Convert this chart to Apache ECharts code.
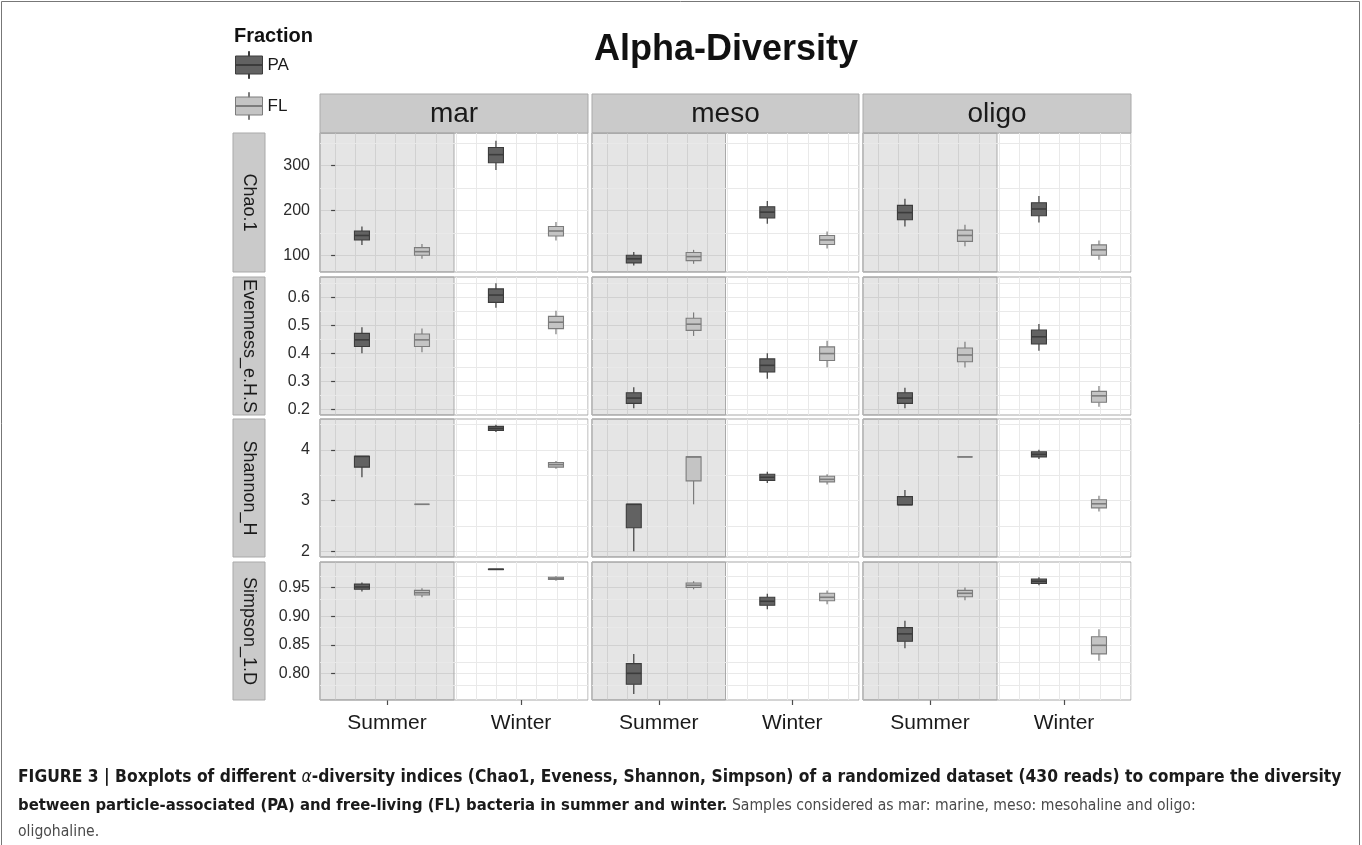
<!DOCTYPE html>
<html>
<head>
<meta charset="utf-8">
<title>Alpha-Diversity</title>
<script src="https://cdn.jsdelivr.net/npm/echarts@6.0.0/dist/echarts.min.js"></script>
<style>
html,body{margin:0;padding:0;background:#ffffff;}
#chart{width:1362px;height:845px;}
</style>
</head>
<body>
<div id="chart"></div>
<script>
// ================= DATA =================
const seasons = ['Summer', 'Winter'];
const habitats = ['mar', 'meso', 'oligo'];
const indexNames = ['Chao.1', 'Evenness_e.H.S', 'Shannon_H', 'Simpson_1.D'];
const fractions = ['PA', 'FL'];

// each box: [min, Q1, median, Q3, max]
// order: mar-Summer, mar-Winter, meso-Summer, meso-Winter, oligo-Summer, oligo-Winter
const chaoPA = [
  [123, 134, 144, 154, 164],
  [290, 306, 324, 340, 355],
  [77, 83, 92, 100, 107],
  [170, 183, 196, 208, 221],
  [164, 179, 195, 211, 226],
  [173, 188, 203, 217, 232]
];
const chaoFL = [
  [92, 100, 108, 117, 125],
  [133, 143, 154, 164, 174],
  [81, 88, 97, 106, 112],
  [115, 124, 134, 144, 153],
  [120, 131, 144, 156, 168],
  [90, 100, 112, 123, 133]
];
const evenPA = [
  [0.400, 0.424, 0.448, 0.471, 0.493],
  [0.563, 0.582, 0.608, 0.630, 0.650],
  [0.204, 0.221, 0.240, 0.259, 0.279],
  [0.309, 0.333, 0.357, 0.380, 0.400],
  [0.204, 0.221, 0.240, 0.259, 0.277],
  [0.409, 0.433, 0.459, 0.483, 0.505]
];
const evenFL = [
  [0.404, 0.424, 0.448, 0.469, 0.489],
  [0.468, 0.488, 0.511, 0.532, 0.552],
  [0.462, 0.482, 0.504, 0.525, 0.546],
  [0.350, 0.374, 0.399, 0.423, 0.445],
  [0.349, 0.370, 0.394, 0.419, 0.441],
  [0.209, 0.225, 0.248, 0.264, 0.283]
];
const shanPA = [
  [3.46, 3.66, 3.87, 3.87, 3.87],
  [4.35, 4.38, 4.42, 4.46, 4.49],
  [2.01, 2.47, 2.93, 2.93, 2.93],
  [3.35, 3.40, 3.46, 3.52, 3.57],
  [2.92, 2.92, 2.92, 3.08, 3.21],
  [3.82, 3.86, 3.91, 3.96, 4.00]
];
const shanFL = [
  [2.93, 2.93, 2.93, 2.93, 2.93],
  [3.63, 3.66, 3.71, 3.75, 3.78],
  [2.93, 3.39, 3.86, 3.86, 3.86],
  [3.32, 3.37, 3.42, 3.48, 3.52],
  [3.86, 3.86, 3.86, 3.86, 3.86],
  [2.79, 2.86, 2.94, 3.02, 3.10]
];
const simpPA = [
  [0.943, 0.947, 0.951, 0.956, 0.959],
  [0.981, 0.9814, 0.982, 0.9823, 0.9826],
  [0.764, 0.781, 0.800, 0.817, 0.834],
  [0.912, 0.919, 0.926, 0.933, 0.939],
  [0.844, 0.856, 0.869, 0.880, 0.892],
  [0.954, 0.957, 0.961, 0.965, 0.968]
];
const simpFL = [
  [0.933, 0.937, 0.941, 0.945, 0.949],
  [0.962, 0.964, 0.966, 0.968, 0.970],
  [0.947, 0.950, 0.954, 0.958, 0.961],
  [0.921, 0.927, 0.933, 0.940, 0.945],
  [0.928, 0.934, 0.940, 0.945, 0.950],
  [0.822, 0.834, 0.849, 0.864, 0.877]
];

// tick labels (major) and minor grid values
const chaoTicks = [100, 200, 300];
const evenTicks = [0.2, 0.3, 0.4, 0.5, 0.6];
const shanTicks = [2, 3, 4];
const simpTicks = [0.80, 0.85, 0.90, 0.95];
const chaoMinor = [150, 250, 350];
const evenMinor = [0.25, 0.35, 0.45, 0.55, 0.65];
const shanMinor = [2.5, 3.5, 4.5];
const simpMinor = [0.775, 0.825, 0.875, 0.925, 0.975];

// ================= LAYOUT / STYLE =================
const colLeft = [320, 592, 863];
const colWidth = [268, 267, 268];
const rowTop = [133, 277, 419, 562];
const rowHeight = [139, 138, 138, 138];
const stripTop = 94, stripH = 39;
const rowStripLeft = 233, rowStripW = 32;

const FONT = "'Liberation Sans', Arial, Helvetica, sans-serif";
const CAP_FONT = "'Liberation Sans Narrow', 'DejaVu Sans Condensed', 'Liberation Sans', sans-serif";
const GRID_COLOR = '#e9e9e9';
const PANEL_BORDER = '#a9a9a9';
const STRIP_FILL = '#cacaca';
const PA_FILL = '#626262', PA_LINE = '#3c3c3c';
const FL_FILL = '#c4c4c4', FL_LINE = '#7c7c7c';
const SHIFT_PA = -0.187, SHIFT_FL = 0.261;   // dodge positions (fraction of band)
const BOX_HALF = 0.056;                      // half box width (fraction of band)

const rowsCfg = [
  { pa: chaoPA, fl: chaoFL, ticks: chaoTicks, minor: chaoMinor, min: 62.7, max: 372.2, split: 3, dec: 0 },
  { pa: evenPA, fl: evenFL, ticks: evenTicks, minor: evenMinor, min: 0.1796, max: 0.6725, split: 5, dec: 1 },
  { pa: shanPA, fl: shanFL, ticks: shanTicks, minor: shanMinor, min: 1.896, max: 4.604, split: 3, dec: 0 },
  { pa: simpPA, fl: simpFL, ticks: simpTicks, minor: simpMinor, min: 0.7534, max: 0.9947, split: 5, dec: 2 }
];

function makeRender(shift, fill, stroke) {
  return function (params, api) {
    const xi = api.value(0);
    const band = api.size([1, 0])[0];
    const pt = function (v) { return api.coord([xi, v]); };
    const cx = pt(api.value(3))[0] + shift * band;
    const yMin = pt(api.value(1))[1];
    const yQ1 = pt(api.value(2))[1];
    const yMed = pt(api.value(3))[1];
    const yQ3 = pt(api.value(4))[1];
    const yMax = pt(api.value(5))[1];
    const hw = BOX_HALF * band;
    return {
      type: 'group',
      children: [
        { type: 'line', shape: { x1: cx, y1: yMax, x2: cx, y2: yQ3 }, style: { stroke: stroke, lineWidth: 1.2 } },
        { type: 'line', shape: { x1: cx, y1: yQ1, x2: cx, y2: yMin }, style: { stroke: stroke, lineWidth: 1.2 } },
        { type: 'rect', shape: { x: cx - hw, y: yQ3, width: 2 * hw, height: Math.max(yQ1 - yQ3, 0) }, style: { fill: fill, stroke: stroke, lineWidth: 1.1 } },
        { type: 'line', shape: { x1: cx - hw, y1: yMed, x2: cx + hw, y2: yMed }, style: { stroke: stroke, lineWidth: 1.6 } }
      ]
    };
  };
}

const grids = [], xAxes = [], yAxes = [], series = [];
let g = 0;
for (let r = 0; r < 4; r++) {
  const cfg = rowsCfg[r];
  for (let c = 0; c < 3; c++) {
    grids.push({
      left: colLeft[c], top: rowTop[r], width: colWidth[c], height: rowHeight[r],
      show: true, borderColor: PANEL_BORDER, borderWidth: 1, backgroundColor: '#ffffff'
    });
    // category axis (Summer / Winter)
    xAxes.push({
      type: 'category', gridIndex: g, data: seasons, position: 'bottom', boundaryGap: true,
      axisLine: { show: false },
      axisTick: { show: r === 3, alignWithLabel: true, length: 5, lineStyle: { color: '#4d4d4d', width: 1.2 } },
      axisLabel: { show: r === 3, fontSize: 21, color: '#1a1a1a', margin: 13, fontFamily: FONT },
      splitLine: { show: false }
    });
    // helper continuous axis for the vertical grid lines & shaded Summer area
    xAxes.push({
      type: 'value', gridIndex: g, position: 'top', min: -0.75, max: 12.55, splitNumber: 13,
      axisLine: { show: false }, axisTick: { show: false }, axisLabel: { show: false },
      splitLine: { show: true, lineStyle: { color: GRID_COLOR, width: 1 } }
    });
    const dec = cfg.dec;
    yAxes.push({
      type: 'value', gridIndex: g, min: cfg.min, max: cfg.max, splitNumber: cfg.split,
      axisLine: { show: false },
      axisTick: { show: c === 0, length: 4, customValues: cfg.ticks, lineStyle: { color: '#4d4d4d', width: 1.2 } },
      axisLabel: {
        show: c === 0, customValues: cfg.ticks, fontSize: 16, color: '#2b2b2b', margin: 10, fontFamily: FONT,
        formatter: function (v) { return Number(v).toFixed(dec); }
      },
      splitLine: { show: true, lineStyle: { color: GRID_COLOR, width: 1 } }
    });
    // background helper: shaded Summer half + minor grid lines
    series.push({
      type: 'line', name: 'bg', xAxisIndex: 2 * g + 1, yAxisIndex: g, data: [], silent: true,
      markLine: {
        silent: true, symbol: 'none', z: 1, animation: false,
        label: { show: false },
        lineStyle: { color: GRID_COLOR, width: 1, type: 'solid' },
        emphasis: { disabled: true },
        data: cfg.minor.map(function (v) { return { yAxis: v }; })
      },
      markArea: {
        silent: true, z: 1, animation: false,
        itemStyle: { color: 'rgba(0,0,0,0.10)', borderColor: PANEL_BORDER, borderWidth: 1 },
        emphasis: { disabled: true },
        data: [[{ xAxis: -0.75 }, { xAxis: 5.9 }]]
      }
    });
    const sub = [2 * c, 2 * c + 1];
    const paData = sub.map(function (k, i) { return [i].concat(cfg.pa[k]); });
    const flData = sub.map(function (k, i) { return [i].concat(cfg.fl[k]); });
    series.push({
      type: 'custom', name: 'PA', xAxisIndex: 2 * g, yAxisIndex: g, z: 5,
      itemStyle: { color: PA_FILL, borderColor: PA_LINE },
      encode: { x: 0, y: [1, 2, 3, 4, 5] },
      renderItem: makeRender(SHIFT_PA, PA_FILL, PA_LINE), data: paData
    });
    series.push({
      type: 'custom', name: 'FL', xAxisIndex: 2 * g, yAxisIndex: g, z: 5,
      itemStyle: { color: FL_FILL, borderColor: FL_LINE },
      encode: { x: 0, y: [1, 2, 3, 4, 5] },
      renderItem: makeRender(SHIFT_FL, FL_FILL, FL_LINE), data: flData
    });
    g++;
  }
}

// ---------- graphics: strips, title, legend title, caption ----------
const graphics = [];
for (let c = 0; c < 3; c++) {
  graphics.push({
    type: 'rect', shape: { x: colLeft[c], y: stripTop, width: colWidth[c], height: stripH },
    style: { fill: STRIP_FILL, stroke: PANEL_BORDER, lineWidth: 1 }, silent: true
  });
  graphics.push({
    type: 'text', x: colLeft[c] + colWidth[c] / 2, y: stripTop + stripH / 2 + 0.5, silent: true,
    style: { text: habitats[c], fontSize: 28, fontFamily: FONT, fill: '#1a1a1a', align: 'center', verticalAlign: 'middle' }
  });
}
for (let r = 0; r < 4; r++) {
  graphics.push({
    type: 'rect', shape: { x: rowStripLeft, y: rowTop[r], width: rowStripW, height: rowHeight[r] },
    style: { fill: STRIP_FILL, stroke: PANEL_BORDER, lineWidth: 1 }, silent: true
  });
  graphics.push({
    type: 'text', x: rowStripLeft + rowStripW / 2, y: rowTop[r] + rowHeight[r] / 2, rotation: -Math.PI / 2, silent: true,
    style: { text: indexNames[r], fontSize: 18, fontFamily: FONT, fill: '#1a1a1a', align: 'center', verticalAlign: 'middle' }
  });
}
graphics.push({
  type: 'text', x: 726, y: 50, silent: true,
  style: { text: 'Alpha-Diversity', fontSize: 36, fontWeight: 'bold', fontFamily: FONT, fill: '#111111', align: 'center', verticalAlign: 'middle' }
});
graphics.push({
  type: 'text', x: 234, y: 36, silent: true,
  style: { text: 'Fraction', fontSize: 20, fontWeight: 'bold', fontFamily: FONT, fill: '#111111', align: 'left', verticalAlign: 'middle' }
});
// frame
graphics.push({
  type: 'rect', shape: { x: 1.5, y: 1.5, width: 1358, height: 900 }, silent: true,
  style: { fill: 'none', stroke: '#777777', lineWidth: 1 }
});
const capRich = {
  b: { fontSize: 16.5, fontWeight: 'bold', fontFamily: CAP_FONT, fill: '#1a1a1a' },
  bw: { fontSize: 17.3, fontWeight: 'bold', fontFamily: CAP_FONT, fill: '#1a1a1a' },
  a: { fontSize: 17.3, fontStyle: 'italic', fontFamily: CAP_FONT, fill: '#1a1a1a' },
  r: { fontSize: 15.6, fontFamily: CAP_FONT, fill: '#4a4a4a' }
};
const capLines = [
  '{bw|FIGURE 3 | Boxplots of different }{a|α}{bw|-diversity indices (Chao1, Eveness, Shannon, Simpson) of a randomized dataset (430 reads) to compare the diversity}',
  '{b|between particle-associated (PA) and free-living (FL) bacteria in summer and winter.}{r| Samples considered as mar: marine, meso: mesohaline and oligo:}',
  '{r|oligohaline.}'
];
const capY = [778, 806, 832];
capLines.forEach(function (t, i) {
  graphics.push({
    type: 'text', x: 18, y: capY[i], silent: true,
    style: { text: t, rich: capRich, align: 'left', verticalAlign: 'middle' }
  });
});

const boxIcon = 'path://M13,0 L14,0 L14,4.5 L13,4.5 Z M0,4.5 L27,4.5 L27,22.5 L0,22.5 Z M0,13 L27,13 L27,14 L0,14 Z M13,22.5 L14,22.5 L14,27 L13,27 Z';

const option = {
  animation: false,
  backgroundColor: '#ffffff',
  textStyle: { fontFamily: FONT },
  tooltip: { show: false },
  legend: {
    data: [
      { name: 'PA', icon: boxIcon, itemStyle: { color: PA_FILL, borderColor: PA_LINE, borderWidth: 1 } },
      { name: 'FL', icon: boxIcon, itemStyle: { color: FL_FILL, borderColor: FL_LINE, borderWidth: 1 } }
    ],
    orient: 'vertical', left: 235, top: 51, padding: 0,
    itemWidth: 27, itemHeight: 27, itemGap: 13, selectedMode: false,
    textStyle: { fontSize: 17, color: '#1a1a1a', fontFamily: FONT }
  },
  grid: grids,
  xAxis: xAxes,
  yAxis: yAxes,
  series: series,
  graphic: { elements: graphics }
};

const chart = echarts.init(document.getElementById('chart'), null, { renderer: 'canvas' });
chart.setOption(option);
</script>
</body>
</html>
